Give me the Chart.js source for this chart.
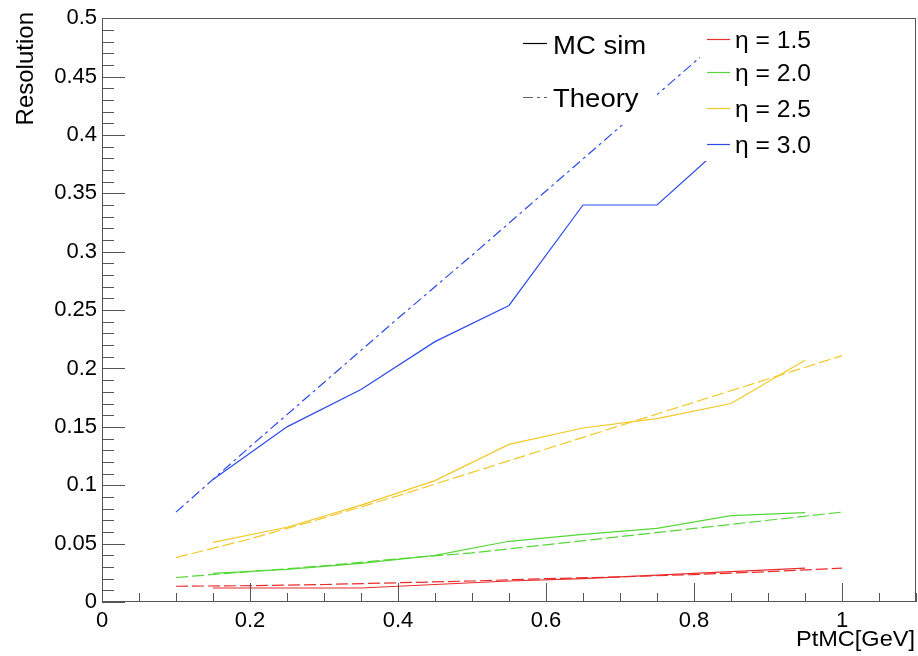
<!DOCTYPE html>
<html>
<head>
<meta charset="utf-8">
<script src="https://cdn.jsdelivr.net/npm/chart.js@4.4.1/dist/chart.umd.min.js"></script>
<style>
  html, body { margin: 0; padding: 0; background: #fff; }
  #wrap { width: 918px; height: 656px; }
</style>
</head>
<body>
<div id="wrap"><canvas id="resChart" width="918" height="656"></canvas></div>
<script>
// ── data ──
const ptMC     = [0.15, 0.25, 0.35, 0.45, 0.55, 0.65, 0.75, 0.85, 0.95];
const ptTheory = [0.1, 0.2, 0.3, 0.4, 0.5, 0.6, 0.7, 0.8, 0.9, 1.0];

const etaLabels = ['η = 1.5', 'η = 2.0', 'η = 2.5', 'η = 3.0'];
const etaColors = ['rgb(232,45,45)', 'rgb(85,215,55)', 'rgb(242,200,40)', 'rgb(45,75,235)'];

const mc15 = [0.012, 0.012, 0.012, 0.015, 0.018, 0.020, 0.023, 0.026, 0.029];
const mc20 = [0.0245, 0.028, 0.033, 0.040, 0.052, 0.058, 0.063, 0.074, 0.0765];
const mc25 = [0.051, 0.064, 0.083, 0.104, 0.135, 0.149, 0.157, 0.170, 0.207];
const mc30 = [0.105, 0.150, 0.182, 0.223, 0.254, 0.340, 0.340, 0.397, 0.440];

const th15 = [0.0135, 0.014, 0.015, 0.0165, 0.018, 0.020, 0.0215, 0.0235, 0.026, 0.029];
const th20 = [0.021, 0.026, 0.031, 0.037, 0.042, 0.049, 0.056, 0.063, 0.070, 0.077];
const th25 = [0.038, 0.054, 0.072, 0.091, 0.111, 0.131, 0.151, 0.171, 0.191, 0.211];
const th30 = [0.077, 0.133, 0.188, 0.243, 0.297, 0.352, 0.407, 0.462, 0.516, 0.571];

const xTicksMajor = [0, 0.2, 0.4, 0.6, 0.8, 1.0];
const yTicksMajor = [0, 0.05, 0.1, 0.15, 0.2, 0.25, 0.3, 0.35, 0.4, 0.45, 0.5];

const mcSeries = [mc15, mc20, mc25, mc30];
const thSeries = [th15, th20, th25, th30];

const FONT = '"Liberation Sans", Arial, Helvetica, sans-serif';
const AXIS_GRAY = '#555';

function pts(xs, ys) {
  return xs.map((x, i) => ({ x: x, y: ys[i] }));
}

const datasets = [];
for (let k = 0; k < 4; k++) {
  datasets.push({
    label: etaLabels[k] + ' MC sim',
    data: pts(ptMC, mcSeries[k]),
    borderColor: etaColors[k],
    borderWidth: 1.2,
    pointRadius: 0,
    tension: 0
  });
  datasets.push({
    label: etaLabels[k] + ' Theory',
    data: pts(ptTheory, thSeries[k]),
    borderColor: etaColors[k],
    borderWidth: 1.2,
    borderDash: k === 3 ? [10, 4, 3, 4] : [12, 4],
    pointRadius: 0,
    tension: 0
  });
}

// stretched text helper (the original picture is a bit wide)
function drawText(ctx, txt, x, y, size, align, sx) {
  ctx.save();
  ctx.font = size + 'px ' + FONT;
  ctx.fillStyle = '#000';
  ctx.textAlign = align;
  ctx.textBaseline = 'alphabetic';
  ctx.translate(x, y);
  ctx.scale(sx, 1);
  ctx.fillText(txt, 0, 0);
  ctx.restore();
}

function sampleLine(ctx, x0, x1, y, color, dash) {
  ctx.save();
  ctx.strokeStyle = color;
  ctx.lineWidth = 1.2;
  ctx.setLineDash(dash || []);
  ctx.beginPath();
  ctx.moveTo(x0, y);
  ctx.lineTo(x1, y);
  ctx.stroke();
  ctx.restore();
}

// ── ROOT-like frame, inward ticks, legends and axis titles ──
const rootFrame = {
  id: 'rootFrame',
  afterDatasetsDraw(chart) {
    const ctx = chart.ctx;
    const a = chart.chartArea;
    const xs = chart.scales.x;
    const ys = chart.scales.y;

    // legend boxes (white fill, they hide the lines below)
    ctx.save();
    ctx.fillStyle = '#fff';
    ctx.fillRect(505, 17, 152, 108);
    ctx.fillRect(700, 18, 145, 143);
    ctx.restore();

    sampleLine(ctx, 523, 547, 43.5, '#000');
    drawText(ctx, 'MC sim', 553, 54, 25, 'left', 1.1);
    sampleLine(ctx, 523, 547, 97.5, '#666', [10, 4, 3, 4]);
    drawText(ctx, 'Theory', 553, 107, 25, 'left', 1.1);

    const rowY = [39.5, 72.5, 108.5, 144.5];
    for (let k = 0; k < 4; k++) {
      sampleLine(ctx, 707, 730, rowY[k], etaColors[k]);
      drawText(ctx, etaLabels[k], 735, rowY[k] + 8, 23, 'left', 1.07);
    }

    // frame
    ctx.save();
    ctx.strokeStyle = AXIS_GRAY;
    ctx.lineWidth = 1;
    ctx.strokeRect(Math.round(a.left) + 0.5, Math.round(a.top) + 0.5,
                   Math.round(a.right - a.left) - 1, Math.round(a.bottom - a.top) - 1);

    // y ticks every 0.01, major every 0.05
    ctx.beginPath();
    for (let i = 0; i <= 50; i++) {
      const py = Math.round(ys.getPixelForValue(i / 100)) + 0.5;
      const len = i % 5 === 0 ? 23 : 12;
      ctx.moveTo(a.left, py);
      ctx.lineTo(a.left + len, py);
    }
    // x ticks every 0.05, major every 0.2
    for (let i = 0; i <= 22; i++) {
      const px = Math.round(xs.getPixelForValue(i * 0.05)) + 0.5;
      const len = i % 4 === 0 ? 19 : 9;
      ctx.moveTo(px, a.bottom);
      ctx.lineTo(px, a.bottom - len);
    }
    ctx.stroke();
    ctx.restore();

    // axis titles
    drawText(ctx, 'PtMC[GeV]', 915, 646, 22, 'right', 1.07);
    ctx.save();
    ctx.translate(33, 12);
    ctx.rotate(-Math.PI / 2);
    ctx.font = '24px ' + FONT;
    ctx.fillStyle = '#000';
    ctx.textAlign = 'right';
    ctx.textBaseline = 'alphabetic';
    ctx.fillText('Resolution', 0, 0);
    ctx.restore();
  }
};

const fmt = v => String(+Number(v).toFixed(2));

new Chart(document.getElementById('resChart').getContext('2d'), {
  type: 'line',
  data: { datasets },
  plugins: [rootFrame],
  options: {
    responsive: false,
    animation: false,
    devicePixelRatio: 1,
    layout: { padding: { left: 0, right: 2, top: 14, bottom: 0 } },
    plugins: {
      legend: { display: false },
      tooltip: { enabled: false }
    },
    scales: {
      x: {
        type: 'linear',
        min: 0,
        max: 1.1,
        afterFit: s => { s.height = 54; },
        afterBuildTicks: s => { s.ticks = xTicksMajor.map(v => ({ value: v })); },
        grid: { display: false, drawTicks: false },
        border: { display: false },
        ticks: {
          padding: 6,
          maxRotation: 0,
          autoSkip: false,
          color: '#000',
          font: { family: FONT, size: 22 },
          callback: fmt
        }
      },
      y: {
        type: 'linear',
        min: 0,
        max: 0.5,
        afterFit: s => { s.width = 102; },
        afterBuildTicks: s => { s.ticks = yTicksMajor.map(v => ({ value: v })); },
        grid: { display: false, drawTicks: false },
        border: { display: false },
        ticks: {
          padding: 5,
          autoSkip: false,
          color: '#000',
          font: { family: FONT, size: 22 },
          callback: fmt
        }
      }
    }
  }
});
</script>
</body>
</html>
